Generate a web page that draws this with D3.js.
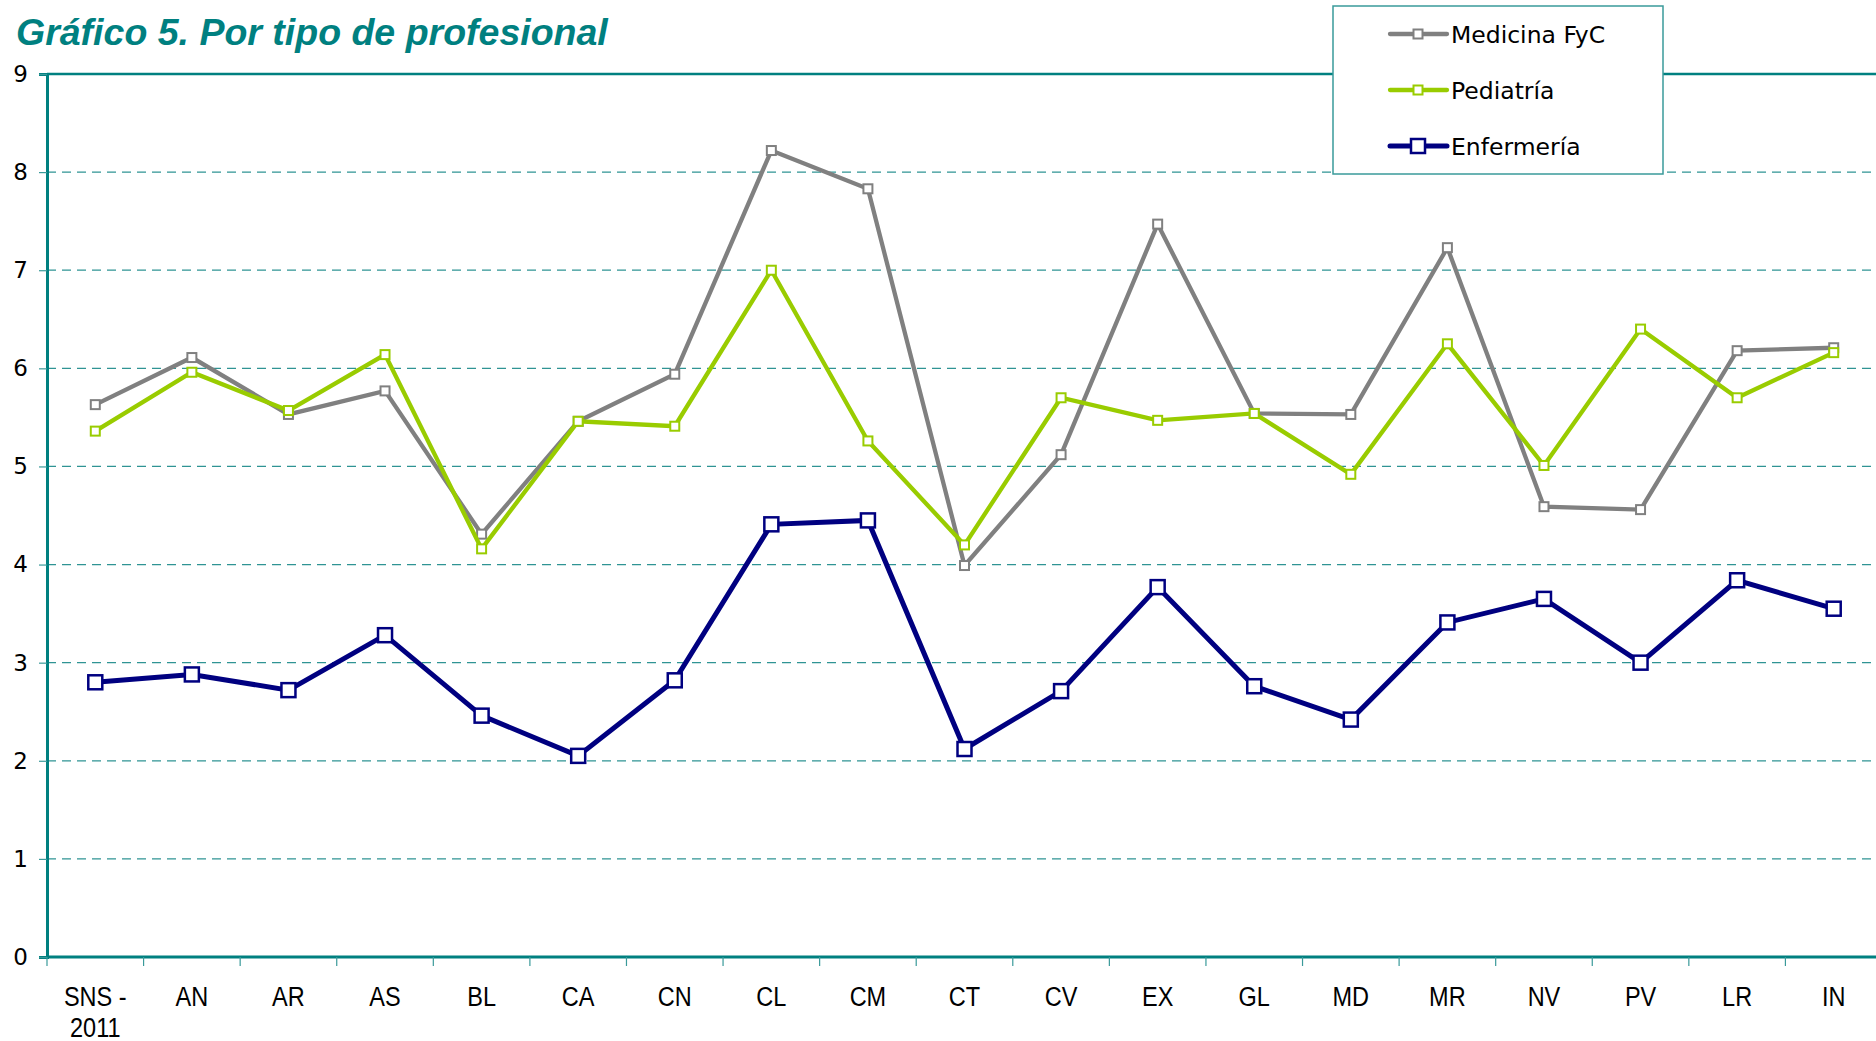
<!DOCTYPE html>
<html>
<head>
<meta charset="utf-8">
<script src="https://cdn.jsdelivr.net/npm/d3@7"></script>
<style>
  body { margin: 0; background: #fff; }
  svg { display: block; }
</style>
</head>
<body>
<div id="chart"></div>
<script>
// data
const categories = ["SNS -\n2011", "AN", "AR", "AS", "BL", "CA", "CN", "CL", "CM", "CT",
                    "CV", "EX", "GL", "MD", "MR", "NV", "PV", "LR", "IN"];
const medicina  = [5.63, 6.11, 5.53, 5.77, 4.31, 5.46, 5.94, 8.22, 7.83, 3.99,
                   5.12, 7.47, 5.54, 5.53, 7.23, 4.59, 4.56, 6.18, 6.21];
const pediatria = [5.36, 5.96, 5.57, 6.14, 4.16, 5.46, 5.41, 7.00, 5.26, 4.20,
                   5.70, 5.47, 5.54, 4.92, 6.25, 5.01, 6.40, 5.70, 6.16];
const enfermeria = [2.80, 2.88, 2.72, 3.28, 2.46, 2.05, 2.82, 4.41, 4.45, 2.12,
                    2.71, 3.77, 2.76, 2.42, 3.41, 3.65, 3.00, 3.84, 3.55];
const yTicks = [0, 1, 2, 3, 4, 5, 6, 7, 8, 9];
const seriesNames = ["Medicina FyC", "Pediatría", "Enfermería"];

const W = 1876, H = 1041;
// plot area runs a bit past the right edge of the picture
const plotLeft = 47, plotRight = 1882, plotTop = 74, plotBottom = 957;
const teal = "#008080";

const series = [
  { name: seriesNames[0], values: medicina,   color: "#808080", width: 4.3, mark: 9,  mw: 2 },
  { name: seriesNames[1], values: pediatria,  color: "#99cc00", width: 4.3, mark: 9,  mw: 2 },
  { name: seriesNames[2], values: enfermeria, color: "#000080", width: 5, mark: 14, mw: 2.5 }
];

const svg = d3.select("#chart").append("svg")
  .attr("width", W).attr("height", H);

const x = d3.scaleBand().domain(categories).range([plotLeft, plotRight]).paddingInner(0).paddingOuter(0);
const y = d3.scaleLinear().domain([0, 9]).range([plotBottom, plotTop]);
const cx = d => x(d) + x.bandwidth() / 2;

// title
svg.append("text")
  .attr("x", 16).attr("y", 45)
  .attr("font-family", "Liberation Sans, Arial, sans-serif")
  .attr("font-weight", "bold").attr("font-style", "italic")
  .attr("font-size", 37.5).attr("fill", teal)
  .text("Gráfico 5. Por tipo de profesional");

// gridlines
svg.append("g").selectAll("line")
  .data(yTicks.filter(t => t > 0 && t < 9))
  .enter().append("line")
  .attr("x1", plotLeft).attr("x2", plotRight)
  .attr("y1", d => y(d)).attr("y2", d => y(d))
  .attr("stroke", "#2f9494").attr("stroke-width", 1.3)
  .attr("stroke-dasharray", "9,6");

// top border line
svg.append("line")
  .attr("x1", plotLeft).attr("x2", plotRight)
  .attr("y1", y(9)).attr("y2", y(9))
  .attr("stroke", teal).attr("stroke-width", 2.5);

// y axis
const yAxis = svg.append("g")
  .attr("transform", `translate(${plotLeft},0)`)
  .call(d3.axisLeft(y).tickValues(yTicks).tickSize(8).tickPadding(11).tickFormat(d3.format("d")));
yAxis.select(".domain").attr("stroke", teal).attr("stroke-width", 3);
yAxis.selectAll(".tick line").attr("stroke", "#3a9a9a").attr("stroke-width", 1.2);
yAxis.selectAll(".tick text")
  .attr("font-family", "DejaVu Sans, Verdana, sans-serif")
  .attr("font-size", 23).attr("fill", "#000");

// x axis line + ticks between categories
svg.append("line")
  .attr("x1", plotLeft).attr("x2", plotRight)
  .attr("y1", plotBottom).attr("y2", plotBottom)
  .attr("stroke", teal).attr("stroke-width", 3);
svg.append("g").selectAll("line")
  .data(categories)
  .enter().append("line")
  .attr("x1", d => x(d)).attr("x2", d => x(d))
  .attr("y1", plotBottom).attr("y2", plotBottom + 9)
  .attr("stroke", "#3a9a9a").attr("stroke-width", 1.2);

// x labels (narrow look: squeeze horizontally)
const xl = svg.append("g").selectAll("text")
  .data(categories)
  .enter().append("text")
  .attr("transform", d => `translate(${cx(d)},1006) scale(0.84,1)`)
  .attr("text-anchor", "middle")
  .attr("font-family", "Liberation Sans, Arial, sans-serif")
  .attr("font-size", 28).attr("fill", "#000");
xl.each(function (d) {
  const lines = d.split("\n");
  const t = d3.select(this);
  lines.forEach((s, i) => {
    t.append("tspan").attr("x", 0).attr("dy", i === 0 ? 0 : 31).text(s);
  });
});

// series lines & markers
const line = d3.line().x((v, i) => cx(categories[i])).y(v => y(v));
series.forEach(s => {
  const g = svg.append("g");
  g.append("path")
    .datum(s.values)
    .attr("d", line)
    .attr("fill", "none")
    .attr("stroke", s.color)
    .attr("stroke-width", s.width)
    .attr("stroke-linejoin", "miter");
  g.selectAll("rect")
    .data(s.values)
    .enter().append("rect")
    .attr("x", (v, i) => cx(categories[i]) - s.mark / 2)
    .attr("y", v => y(v) - s.mark / 2)
    .attr("width", s.mark).attr("height", s.mark)
    .attr("fill", "#fff")
    .attr("stroke", s.color).attr("stroke-width", s.mw);
});

// legend
const lg = svg.append("g");
lg.append("rect")
  .attr("x", 1333).attr("y", 6).attr("width", 330).attr("height", 168)
  .attr("fill", "#fff").attr("stroke", "#3a9a9a").attr("stroke-width", 1.5);
series.forEach((s, i) => {
  const yy = 34 + i * 56;
  lg.append("line")
    .attr("x1", 1390).attr("x2", 1447)
    .attr("y1", yy).attr("y2", yy)
    .attr("stroke", s.color).attr("stroke-width", s.width)
    .attr("stroke-linecap", "round");
  lg.append("rect")
    .attr("x", 1418 - s.mark / 2).attr("y", yy - s.mark / 2)
    .attr("width", s.mark).attr("height", s.mark)
    .attr("fill", "#fff").attr("stroke", s.color).attr("stroke-width", s.mw);
  lg.append("text")
    .attr("x", 1451).attr("y", yy + 9)
    .attr("font-family", "DejaVu Sans, Verdana, sans-serif")
    .attr("font-size", 23.5).attr("fill", "#000")
    .text(s.name);
});
</script>
</body>
</html>
